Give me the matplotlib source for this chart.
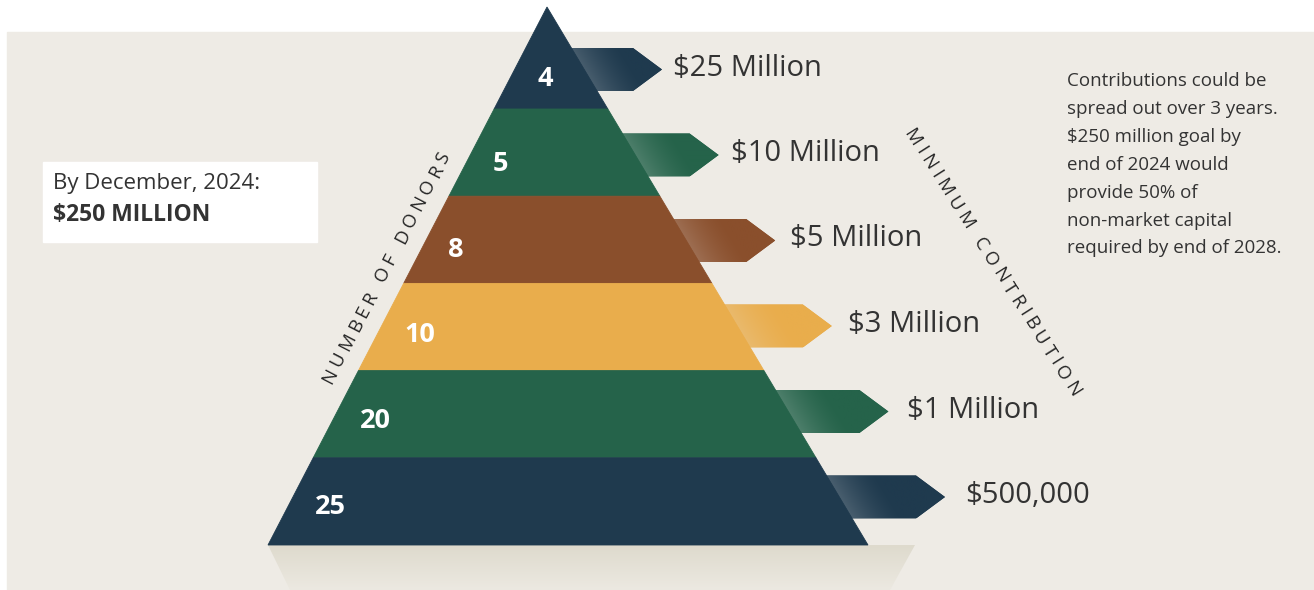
import numpy as np
import matplotlib
matplotlib.use("Agg")
from matplotlib import pyplot as plt
from matplotlib.patches import Polygon, Rectangle
from matplotlib.colors import to_rgb

plt.rcParams['font.family'] = ['Open Sans', 'DejaVu Sans']

########################################  DATA  ##############################################
donors = [4, 5, 8, 10, 20, 25]
min_contribution = ["$25 Million", "$10 Million", "$5 Million", "$3 Million", "$1 Million", "$500,000"]
goal_title = "By December, 2024:"
goal_amount = "$250 MILLION"
left_title = "NUMBER OF DONORS"
right_title = "MINIMUM CONTRIBUTION"
note_lines = ["Contributions could be",
              "spread out over 3 years.",
              "$250 million goal by",
              "end of 2024 would",
              "provide 50% of",
              "non-market capital",
              "required by end of 2028."]

########################################  STYLE / LAYOUT  ####################################
tier_colors = ['#1f3a4e', '#25634a', '#8a4f2c', '#e9ad4c', '#25634a', '#1f3a4e']
text_col = '#333333'
panel_col = '#eeebe5'
W, H = 1314, 590
apex_x, apex_y = 547, 7
base_y, base_left, base_right = 545, 268, 868
first_cut = 109


def edge_left(y):
    return apex_x + (base_left - apex_x) * (y - apex_y) / (base_y - apex_y)


def edge_right(y):
    return apex_x + (base_right - apex_x) * (y - apex_y) / (base_y - apex_y)


def gradient_fill(ax, patch, img, extent, z):
    im = ax.imshow(img, extent=extent, origin='upper', aspect='auto',
                   interpolation='bilinear', zorder=z)
    im.set_clip_path(patch)


fig = plt.figure(figsize=(W / 100, H / 100), dpi=100)
fig.patch.set_facecolor('white')
ax = fig.add_axes([0, 0, 1, 1])
ax.axis('off')

# beige panel
ax.add_patch(Rectangle((7, 32), W - 7, H - 32, color=panel_col, zorder=0))

# shadow under the pyramid
shadow = Polygon([(base_left, base_y), (915, base_y), (890, H), (290, H)],
                 closed=True, facecolor='none', edgecolor='none', zorder=1)
ax.add_patch(shadow)
t = np.linspace(0, 1, 60)[:, None, None]
top_c, bot_c = np.array(to_rgb('#dedacd')), np.array(to_rgb('#ece9e1'))
img = np.repeat(top_c * (1 - t) + bot_c * t, 2, axis=1)
gradient_fill(ax, shadow, img, (base_left, 915, H, base_y), 1)

# pyramid tiers
cuts = np.linspace(first_cut, base_y, len(donors))
tops = np.concatenate([[apex_y], cuts[:-1]])
for i, n in enumerate(donors):
    y0, y1 = tops[i], cuts[i]
    if i == 0:
        pts = [(apex_x, apex_y), (edge_right(y1), y1), (edge_left(y1), y1)]
    else:
        pts = [(edge_left(y0), y0), (edge_right(y0), y0), (edge_right(y1), y1), (edge_left(y1), y1)]
    ax.add_patch(Polygon(pts, closed=True, facecolor=tier_colors[i], edgecolor=tier_colors[i],
                         linewidth=0.6, zorder=3))
    ly = 76 + 85.6 * i
    ax.text(edge_left(ly) + 26, ly + 9.5, str(n), color='white', fontsize=19.5,
            fontweight='bold', ha='left', va='baseline', zorder=5)

# arrows with contribution labels
for i, lab in enumerate(min_contribution):
    mid = 69.5 + 85.5 * i
    y0, y1 = mid - 21.5, mid + 21.5
    tip = 662 + 56.6 * i
    shoulder = tip - 29
    x0 = edge_right(y0) - 3
    arrow = Polygon([(x0, y0), (shoulder, y0), (tip, mid), (shoulder, y1), (edge_right(y1) - 3, y1)],
                    closed=True, facecolor=tier_colors[i], edgecolor='none', zorder=2)
    ax.add_patch(arrow)
    xs = np.linspace(x0, tip, 200)
    ys = np.linspace(y0, y1, 44)
    X, Y = np.meshgrid(xs, ys)
    d = X - edge_right(Y)
    w = 0.2 * np.clip(1 - d / 50, 0, 1) ** 1.5
    base = np.array(to_rgb(tier_colors[i]))
    img = base[None, None, :] * (1 - w[..., None]) + w[..., None] * 0.92
    gradient_fill(ax, arrow, img, (x0, tip, y1, y0), 2.1)
    ax.text(673 + 58.4 * i, mid + 6, lab, color=text_col, fontsize=21,
            ha='left', va='baseline', zorder=5)


# letter-spaced rotated titles along the pyramid sides
def spaced_text(s, cx, cy, angle, size, track):
    r = fig.canvas.get_renderer()
    widths = []
    for ch in s:
        if ch == ' ':
            widths.append(size * 0.45)
            continue
        tt = ax.text(0, 0, ch, fontsize=size)
        widths.append(tt.get_window_extent(r).width)
        tt.remove()
    total = sum(widths) + track * (len(s) - 1)
    ux, uy = np.cos(np.radians(angle)), -np.sin(np.radians(angle))
    pos = -total / 2
    for ch, wd in zip(s, widths):
        c = pos + wd / 2
        if ch != ' ':
            ax.text(cx + ux * c, cy + uy * c, ch, fontsize=size, color='#262626',
                    rotation=angle, rotation_mode='anchor',
                    ha='center', va='center', zorder=5)
        pos += wd + track


spaced_text(left_title, 386, 268, 62.6, 13.5, 4.2)
spaced_text(right_title, 992, 263, -57.5, 13.5, 4.2)

# goal box
ax.add_patch(Rectangle((43, 162), 274, 80, color='white', zorder=2))
ax.text(53, 189, goal_title, color=text_col, fontsize=16, ha='left', va='baseline', zorder=5)
ax.text(53, 221, goal_amount, color=text_col, fontsize=16.5, fontweight='bold',
        ha='left', va='baseline', zorder=5)

# side note
for k, line in enumerate(note_lines):
    ax.text(1067, 86.5 + 27.8 * k, line, color=text_col, fontsize=13.5,
            ha='left', va='baseline', zorder=5)

ax.set_xlim(0, W)
ax.set_ylim(H, 0)
fig.savefig('out.png', dpi=100, facecolor='white')
